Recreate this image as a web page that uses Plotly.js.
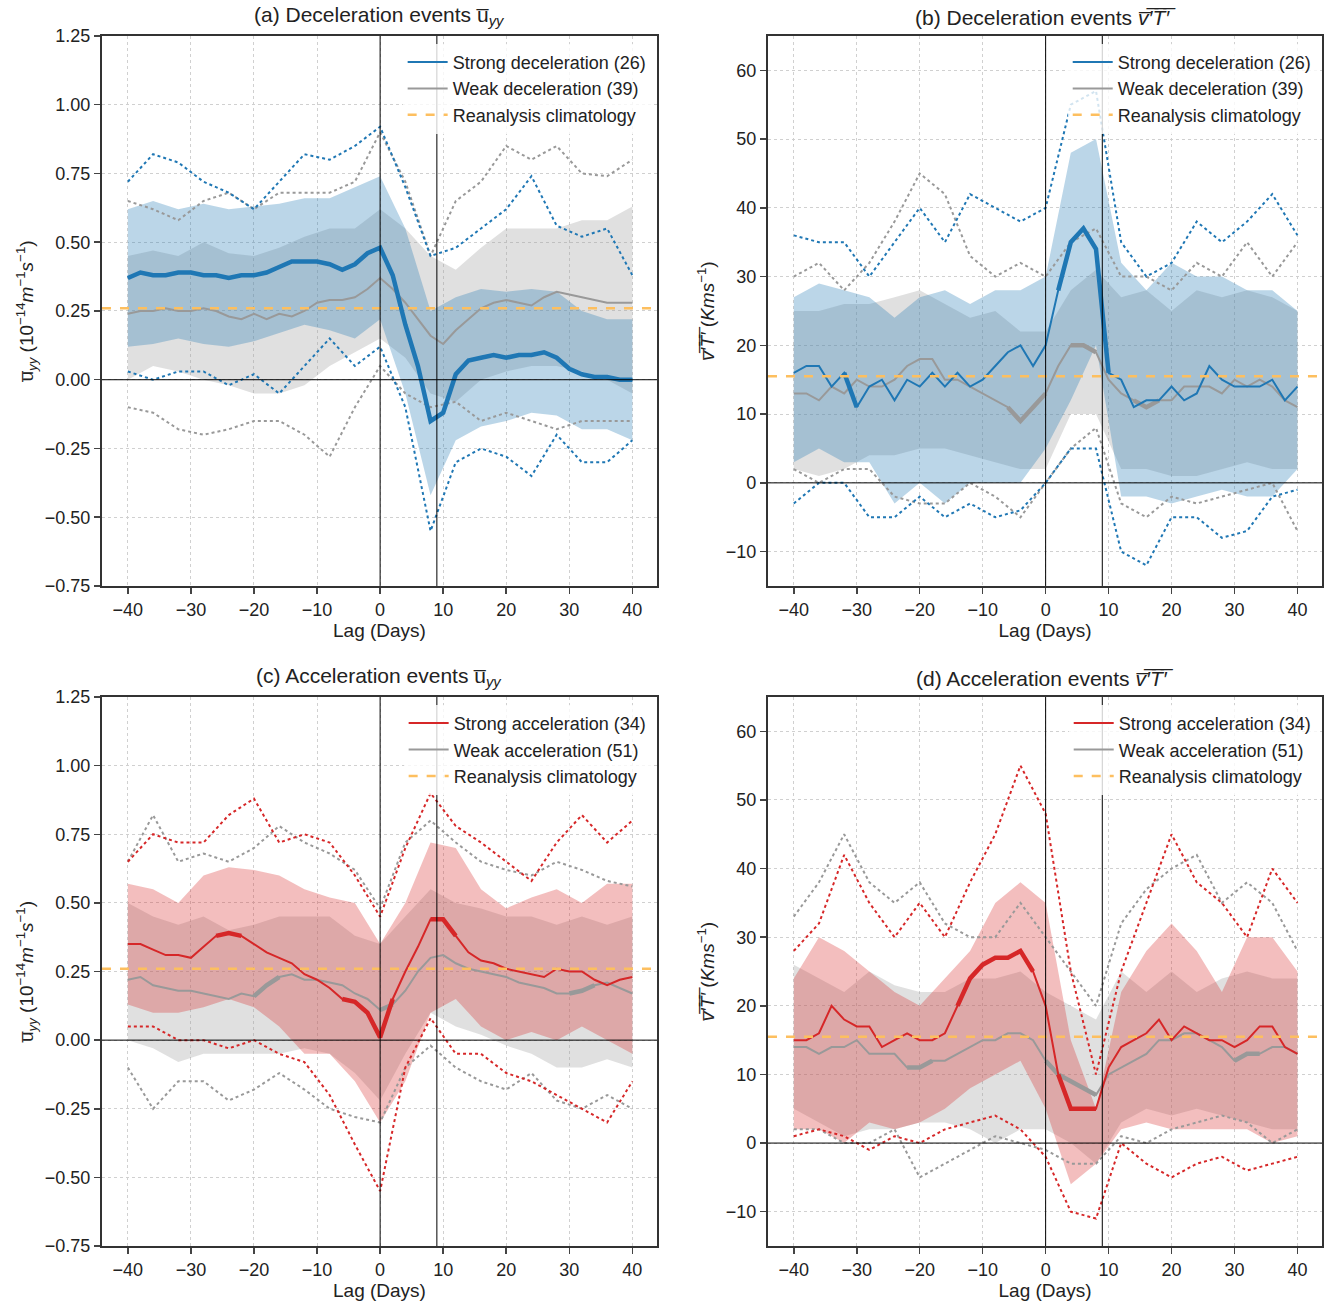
<!DOCTYPE html>
<html>
<head>
<meta charset="utf-8">
<script src="https://cdn.plot.ly/plotly-3.0.1.min.js"></script>
<style>body{margin:0;background:#fff}#graph{width:1328px;height:1308px}</style>
</head>
<body>
<div id="graph"></div>
<script>
// lag axes: means every 2 days, spread/extremes every 4 days
const lag2 = [];
for (let d = -40; d <= 40; d += 2) lag2.push(d);
const lag4 = [];
for (let d = -40; d <= 40; d += 4) lag4.push(d);

const climUyy = 0.26;
const climVT = 15.5;

// (a) deceleration u_yy
const aStrong = [0.37,0.39,0.38,0.38,0.39,0.39,0.38,0.38,0.37,0.38,0.38,0.39,0.41,0.43,0.43,0.43,0.42,0.40,0.42,0.46,0.48,0.38,0.20,0.05,-0.15,-0.12,0.02,0.07,0.08,0.09,0.08,0.09,0.09,0.10,0.08,0.04,0.02,0.01,0.01,0.00,0.00];
const aWeak = [0.24,0.25,0.25,0.26,0.25,0.25,0.26,0.25,0.23,0.22,0.24,0.22,0.24,0.23,0.25,0.28,0.29,0.29,0.30,0.33,0.37,0.33,0.28,0.22,0.16,0.13,0.18,0.22,0.26,0.28,0.29,0.28,0.27,0.30,0.32,0.31,0.30,0.29,0.28,0.28,0.28];
const aStrongHi = [0.62,0.65,0.62,0.64,0.62,0.63,0.64,0.66,0.66,0.70,0.74,0.55,0.25,0.30,0.33,0.32,0.33,0.32,0.25,0.22,0.22];
const aStrongLo = [0.12,0.13,0.15,0.13,0.12,0.14,0.17,0.20,0.18,0.15,0.22,-0.05,-0.42,-0.22,-0.17,-0.15,-0.12,-0.13,-0.18,-0.18,-0.22];
const aWeakHi = [0.45,0.47,0.45,0.50,0.46,0.45,0.48,0.52,0.55,0.55,0.62,0.55,0.45,0.40,0.48,0.55,0.55,0.55,0.58,0.58,0.63];
const aWeakLo = [0.00,0.05,0.03,0.00,-0.02,-0.05,-0.05,-0.02,0.05,0.10,0.15,0.08,-0.05,-0.08,0.00,0.03,0.05,0.05,0.03,0.00,-0.05];
const aStrongMax = [0.72,0.82,0.79,0.72,0.68,0.62,0.72,0.82,0.80,0.85,0.92,0.70,0.45,0.48,0.55,0.62,0.74,0.56,0.52,0.55,0.38];
const aStrongMin = [0.03,0.00,0.03,0.03,-0.02,0.02,-0.05,0.05,0.15,0.05,0.12,-0.10,-0.55,-0.30,-0.25,-0.28,-0.35,-0.20,-0.30,-0.30,-0.22];
const aWeakMax = [0.65,0.62,0.58,0.65,0.68,0.62,0.68,0.68,0.68,0.72,0.90,0.72,0.45,0.65,0.72,0.85,0.80,0.85,0.75,0.74,0.80];
const aWeakMin = [-0.10,-0.12,-0.18,-0.20,-0.18,-0.15,-0.15,-0.20,-0.28,-0.10,0.05,-0.05,-0.10,-0.08,-0.15,-0.12,-0.15,-0.18,-0.15,-0.15,-0.15];

// (b) deceleration v'T'
const bStrong = [16,17,17,14,16,11,14,15,12,15,14,16,14,16,14,15,17,19,20,17,20,28,35,37,34,16,15,11,12,12,14,12,13,17,15,14,14,14,15,12,14];
const bWeak = [13,13,12,14,13,15,14,14,15,17,18,18,15,15,14,13,12,11,9,11,13,17,20,20,19,15,13,12,11,12,12,14,14,14,13,15,14,15,14,12,11];
const bStrongHi = [27,29,28,27,24,27,28,26,28,28,30,48,50,32,28,32,30,30,28,28,25];
const bStrongLo = [3,5,3,3,-3,0,-3,0,0,0,5,12,20,-2,-2,-3,-2,-1,-2,-2,2];
const bWeakHi = [25,25,26,26,27,28,26,24,25,22,22,28,31,27,28,25,28,27,28,27,25];
const bWeakLo = [2,1,2,4,4,5,5,4,3,2,2,10,10,2,2,1,1,2,3,2,2];
const bStrongMax = [36,35,35,30,35,40,35,42,40,38,40,55,57,35,30,32,38,35,38,42,36];
const bStrongMin = [-3,0,0,-5,-5,-2,-5,-3,-5,-4,0,5,5,-10,-12,-5,-5,-8,-7,-2,-1];
const bWeakMax = [30,32,28,32,38,45,42,33,30,32,30,35,37,30,30,28,32,30,35,30,35];
const bWeakMin = [2,0,2,2,-2,-3,-3,0,-2,-5,0,5,8,-3,-5,-2,-3,-2,-1,0,-7];

// (c) acceleration u_yy
const cStrong = [0.35,0.35,0.33,0.31,0.31,0.30,0.34,0.38,0.39,0.38,0.35,0.32,0.30,0.28,0.24,0.22,0.19,0.15,0.14,0.10,0.01,0.15,0.25,0.34,0.44,0.44,0.38,0.32,0.29,0.28,0.26,0.25,0.24,0.23,0.26,0.25,0.25,0.22,0.20,0.22,0.23];
const cWeak = [0.22,0.23,0.20,0.19,0.18,0.18,0.17,0.16,0.15,0.17,0.16,0.20,0.23,0.24,0.22,0.22,0.21,0.20,0.17,0.15,0.11,0.13,0.18,0.25,0.30,0.31,0.28,0.26,0.25,0.24,0.23,0.21,0.20,0.19,0.17,0.17,0.18,0.20,0.21,0.19,0.17];
const cStrongHi = [0.57,0.55,0.50,0.60,0.63,0.62,0.60,0.55,0.52,0.50,0.35,0.50,0.72,0.70,0.55,0.48,0.52,0.55,0.50,0.57,0.57];
const cStrongLo = [0.13,0.10,0.10,0.12,0.15,0.12,0.05,-0.05,-0.05,-0.15,-0.30,-0.15,0.10,0.15,0.05,0.00,0.03,0.00,0.05,0.00,-0.05];
const cWeakHi = [0.50,0.45,0.42,0.45,0.40,0.42,0.45,0.45,0.45,0.38,0.35,0.45,0.55,0.50,0.48,0.45,0.45,0.42,0.45,0.42,0.45];
const cWeakLo = [0.00,-0.03,-0.08,-0.05,-0.05,-0.05,-0.05,-0.03,-0.05,-0.12,-0.22,-0.05,0.10,0.05,0.02,-0.02,-0.05,-0.10,-0.10,-0.07,-0.10];
const cStrongMax = [0.65,0.75,0.72,0.72,0.82,0.88,0.72,0.75,0.72,0.60,0.45,0.70,0.90,0.78,0.72,0.65,0.58,0.72,0.82,0.72,0.80];
const cStrongMin = [0.05,0.05,0.00,0.00,-0.03,0.00,-0.05,-0.08,-0.20,-0.38,-0.55,-0.10,0.08,-0.05,-0.05,-0.12,-0.15,-0.20,-0.25,-0.30,-0.15];
const cWeakMax = [0.65,0.82,0.65,0.68,0.65,0.70,0.78,0.72,0.68,0.62,0.48,0.72,0.80,0.72,0.65,0.62,0.60,0.65,0.62,0.58,0.56];
const cWeakMin = [-0.10,-0.25,-0.15,-0.15,-0.22,-0.18,-0.12,-0.18,-0.25,-0.28,-0.30,-0.10,-0.02,-0.10,-0.15,-0.18,-0.12,-0.22,-0.25,-0.20,-0.25];

// (d) acceleration v'T'
const dStrong = [15,15,16,20,18,17,17,14,15,16,15,15,16,20,24,26,27,27,28,25,20,10,5,5,5,11,14,15,16,18,15,17,16,15,15,14,15,17,17,14,13];
const dWeak = [14,14,13,14,14,15,13,13,13,11,11,12,12,13,14,15,15,16,16,15,12,10,9,8,7,10,11,12,13,15,15,16,16,15,14,12,13,13,14,14,13];
const dStrongHi = [24,30,28,25,22,20,24,28,35,38,35,15,5,22,28,32,28,22,30,30,25];
const dStrongLo = [2,2,0,3,2,3,5,8,10,12,5,-6,-3,2,3,2,2,2,2,0,1];
const dWeakHi = [26,24,22,25,23,22,22,24,24,25,22,20,18,25,22,25,22,24,25,24,24];
const dWeakLo = [5,3,1,2,2,3,3,2,0,2,2,0,-3,3,5,4,5,4,3,2,2];
const dStrongMax = [28,32,42,35,30,35,30,38,45,55,48,25,10,25,35,45,38,35,30,40,35];
const dStrongMin = [1,2,1,-1,1,0,2,3,4,2,-2,-10,-11,0,-3,-5,-3,-2,-4,-3,-2];
const dWeakMax = [33,38,45,38,35,38,32,30,30,35,30,25,20,32,37,40,42,35,38,35,28];
const dWeakMin = [2,2,0,0,2,-5,-3,-1,1,0,-1,-3,-3,1,0,2,3,4,3,0,2];

// significant stretches (lag ranges) drawn thicker
const aStrongSig = [[-40,40]];
const aWeakSig = [];
const bStrongSig = [[-32,-30],[2,10]];
const bWeakSig = [[-6,0],[4,8],[14,18]];
const cStrongSig = [[-26,-22],[-6,2],[8,12]];
const cWeakSig = [[-20,-16],[0,2],[30,34]];
const dStrongSig = [[-34,-34],[-14,-2],[2,8]];
const dWeakSig = [[-22,-18],[0,8],[30,34]];

const XR = [-44.1, 43.9];
const BLUE = '#1f77b4', RED = '#d62728', GREY = '#999999', ORANGE = '#fdbf5f';
const FONT = 'Liberation Sans, Arial, sans-serif';

function sigMask(y, ranges) {
    return y.map((v, i) => ranges.some(r => lag2[i] >= r[0] && lag2[i] <= r[1]) ? v : null);
}

const data = [];
function panel(n, p) {
    const xa = n === 1 ? 'x' : 'x' + n, ya = n === 1 ? 'y' : 'y' + n;
    const lg = n === 1 ? 'legend' : 'legend' + n;
    const base = {xaxis: xa, yaxis: ya, hoverinfo: 'skip', showlegend: false, legend: lg};
    // weak spread, then strong spread
    data.push(Object.assign({x: lag4, y: p.weakLo, mode: 'lines', line: {width: 0}}, base));
    data.push(Object.assign({x: lag4, y: p.weakHi, mode: 'lines', line: {width: 0}, fill: 'tonexty', fillcolor: 'rgba(160,160,160,0.33)'}, base));
    data.push(Object.assign({x: lag4, y: p.strongLo, mode: 'lines', line: {width: 0}}, base));
    data.push(Object.assign({x: lag4, y: p.strongHi, mode: 'lines', line: {width: 0}, fill: 'tonexty', fillcolor: p.band}, base));
    // extremes
    [p.weakMax, p.weakMin].forEach(y => data.push(Object.assign({x: lag4, y: y, mode: 'lines', line: {color: GREY, width: 2, dash: 'dot'}}, base)));
    [p.strongMax, p.strongMin].forEach(y => data.push(Object.assign({x: lag4, y: y, mode: 'lines', line: {color: p.color, width: 2, dash: 'dot'}}, base)));
    // means
    data.push(Object.assign({}, base, {x: lag2, y: p.weak, mode: 'lines', line: {color: GREY, width: 2}, name: p.weakName, showlegend: true, legendrank: 2}));
    data.push(Object.assign({}, base, {x: lag2, y: sigMask(p.weak, p.weakSig), mode: 'lines', line: {color: GREY, width: 4.5}}));
    data.push(Object.assign({}, base, {x: lag2, y: p.strong, mode: 'lines', line: {color: p.color, width: 2}, name: p.strongName, showlegend: true, legendrank: 1}));
    data.push(Object.assign({}, base, {x: lag2, y: sigMask(p.strong, p.strongSig), mode: 'lines', line: {color: p.color, width: 4.5}}));
    data.push(Object.assign({}, base, {x: XR, y: [p.clim, p.clim], mode: 'lines', line: {color: ORANGE, width: 2.5, dash: 'dash'}, name: 'Reanalysis climatology', showlegend: true, legendrank: 3}));
}

panel(1, {weak: aWeak, strong: aStrong, weakHi: aWeakHi, weakLo: aWeakLo, strongHi: aStrongHi, strongLo: aStrongLo,
    weakMax: aWeakMax, weakMin: aWeakMin, strongMax: aStrongMax, strongMin: aStrongMin, weakSig: aWeakSig, strongSig: aStrongSig,
    color: BLUE, band: 'rgba(31,119,180,0.3)', clim: climUyy, strongName: 'Strong deceleration (26)', weakName: 'Weak deceleration (39)'});
panel(2, {weak: bWeak, strong: bStrong, weakHi: bWeakHi, weakLo: bWeakLo, strongHi: bStrongHi, strongLo: bStrongLo,
    weakMax: bWeakMax, weakMin: bWeakMin, strongMax: bStrongMax, strongMin: bStrongMin, weakSig: bWeakSig, strongSig: bStrongSig,
    color: BLUE, band: 'rgba(31,119,180,0.3)', clim: climVT, strongName: 'Strong deceleration (26)', weakName: 'Weak deceleration (39)'});
panel(3, {weak: cWeak, strong: cStrong, weakHi: cWeakHi, weakLo: cWeakLo, strongHi: cStrongHi, strongLo: cStrongLo,
    weakMax: cWeakMax, weakMin: cWeakMin, strongMax: cStrongMax, strongMin: cStrongMin, weakSig: cWeakSig, strongSig: cStrongSig,
    color: RED, band: 'rgba(214,39,40,0.3)', clim: climUyy, strongName: 'Strong acceleration (34)', weakName: 'Weak acceleration (51)'});
panel(4, {weak: dWeak, strong: dStrong, weakHi: dWeakHi, weakLo: dWeakLo, strongHi: dStrongHi, strongLo: dStrongLo,
    weakMax: dWeakMax, weakMin: dWeakMin, strongMax: dStrongMax, strongMin: dStrongMin, weakSig: dWeakSig, strongSig: dStrongSig,
    color: RED, band: 'rgba(214,39,40,0.3)', clim: climVT, strongName: 'Strong acceleration (34)', weakName: 'Weak acceleration (51)'});

const UYY = 'u\u0305<sub><i>yy</i></sub>';
const VT = '<i>v\u0305\u2032\u0305T\u0305\u2032\u0305</i>';
const xdoms = [[0.0768, 0.4947], [0.5783, 0.9955]];
const ydoms = [[0.5520, 0.9725], [0.0474, 0.4671]];

function xaxis(dom, anchor) {
    return {domain: dom, anchor: anchor, range: XR, tickvals: [-40,-30,-20,-10,0,10,20,30,40],
        title: {text: 'Lag (Days)', font: {size: 19}, standoff: 4}, ticks: 'outside', ticklen: 6, tickwidth: 1.5,
        showline: true, mirror: true, linewidth: 2, linecolor: '#333', gridcolor: '#d0d0d0', griddash: 'dot',
        zeroline: false, tickfont: {size: 18}};
}
function yaxis(dom, anchor, uyy) {
    return {domain: dom, anchor: anchor, range: uyy ? [-0.75, 1.25] : [-15, 65],
        tickvals: uyy ? [-0.75,-0.5,-0.25,0,0.25,0.5,0.75,1,1.25] : [-10,0,10,20,30,40,50,60],
        tickformat: uyy ? '.2f' : 'd',
        title: {text: uyy ? UYY + ' (10<sup>\u221214</sup><i>m</i><sup>\u22121</sup><i>s</i><sup>\u22121</sup>)' : VT + ' (<i>Kms</i><sup>\u22121</sup>)', font: {size: 19}, standoff: 6},
        ticks: 'outside', ticklen: 6, tickwidth: 1.5, showline: true, mirror: true, linewidth: 2, linecolor: '#333',
        gridcolor: '#d0d0d0', griddash: 'dot', zeroline: false, tickfont: {size: 18}};
}
function legend(dom, ydom) {
    return {x: dom[1] - 0.004, y: ydom[1] - 0.006, xanchor: 'right', yanchor: 'top', bgcolor: 'rgba(255,255,255,0.8)',
        font: {size: 18}, tracegroupgap: 0, itemwidth: 40, traceorder: 'normal'};
}

const shapes = [];
[['x','y'],['x2','y2'],['x3','y3'],['x4','y4']].forEach(s => {
    shapes.push({type: 'line', xref: s[0], yref: s[1] + ' domain', x0: 0, x1: 0, y0: 0, y1: 1, line: {color: '#000', width: 1}});
    shapes.push({type: 'line', xref: s[0], yref: s[1] + ' domain', x0: 9, x1: 9, y0: 0, y1: 1, line: {color: '#000', width: 1}});
    shapes.push({type: 'line', xref: s[0] + ' domain', yref: s[1], x0: 0, x1: 1, y0: 0, y1: 0, line: {color: '#000', width: 1}});
});

const titles = ['(a) Deceleration events ' + UYY, '(b) Deceleration events ' + VT,
    '(c) Acceleration events ' + UYY, '(d) Acceleration events ' + VT];
const annotations = titles.map((t, i) => ({text: t, xref: 'paper', yref: 'paper', showarrow: false,
    x: (xdoms[i % 2][0] + xdoms[i % 2][1]) / 2, xanchor: 'center', y: ydoms[Math.floor(i / 2)][1] + 0.004, yanchor: 'bottom', font: {size: 21}}));

const layout = {
    width: 1328, height: 1308, margin: {l: 0, r: 0, t: 0, b: 0},
    paper_bgcolor: '#fff', plot_bgcolor: '#fff', font: {family: FONT, color: '#222'},
    xaxis: xaxis(xdoms[0], 'y'), yaxis: yaxis(ydoms[0], 'x', true),
    xaxis2: xaxis(xdoms[1], 'y2'), yaxis2: yaxis(ydoms[0], 'x2', false),
    xaxis3: xaxis(xdoms[0], 'y3'), yaxis3: yaxis(ydoms[1], 'x3', true),
    xaxis4: xaxis(xdoms[1], 'y4'), yaxis4: yaxis(ydoms[1], 'x4', false),
    legend: legend(xdoms[0], ydoms[0]), legend2: legend(xdoms[1], ydoms[0]),
    legend3: legend(xdoms[0], ydoms[1]), legend4: legend(xdoms[1], ydoms[1]),
    shapes: shapes, annotations: annotations
};

Plotly.newPlot('graph', data, layout, {staticPlot: true});
</script>
</body>
</html>
